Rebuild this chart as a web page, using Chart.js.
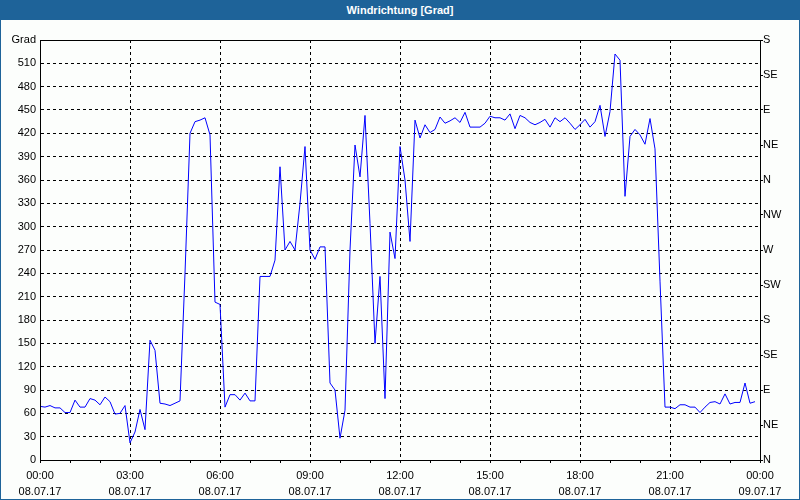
<!DOCTYPE html>
<html>
<head>
<meta charset="utf-8">
<title>Windrichtung</title>
<script src="https://cdn.jsdelivr.net/npm/chart.js@4/dist/chart.umd.min.js"></script>
<style>
  body { margin: 0; background: #fcfefc; }
  #titleBar {
    position: absolute; left: 0; top: 0; width: 800px; height: 20px;
    background: #1e6399; color: #fff; text-align: center;
    font: bold 11px "Liberation Sans", Arial, sans-serif; line-height: 20px;
  }
  #wrap { position: absolute; left: 0; top: 0; width: 800px; height: 500px; }
  #border {
    position: absolute; left: 0; top: 0; width: 800px; height: 500px;
    box-sizing: border-box; border: 1px solid #1e6399; pointer-events: none;
  }
</style>
</head>
<body>
<div id="titleBar">Windrichtung [Grad]</div>
<div id="wrap"><canvas id="windChart" width="800" height="500"></canvas></div>
<div id="border"></div>
<script>
// Wind direction in degrees, one value every 10 minutes (08.07.17 00:00 - 23:50)
const sampleMinutes = 10;
const windDir = [
  69, 68, 70, 67, 67, 61, 61, 77, 68, 68, 79, 77, 71, 81, 75, 59, 60, 70,
  22, 36, 65, 39, 154, 141, 73, 72, 70, 73, 76, 240, 420, 435, 437, 440, 418, 203,
  200, 68, 84, 84, 77, 86, 76, 76, 236, 236, 236, 257, 377, 270, 281, 270, 330, 403,
  270, 258, 274, 274, 99, 90, 28, 64, 270, 405, 364, 443, 304, 150, 236, 79, 293, 259,
  403, 360, 281, 437, 414, 431, 421, 425, 441, 433, 436, 440, 434, 447, 428, 428, 428, 433,
  442, 440, 440, 437, 445, 426, 443, 440, 434, 431, 434, 438, 428, 440, 435, 440, 433, 425,
  431, 438, 428, 435, 456, 416, 448, 522, 514, 339, 416, 425, 418, 406, 439, 400, 230, 68,
  68, 66, 71, 71, 68, 68, 61, 68, 74, 75, 72, 85, 72, 74, 74, 99, 73, 75
];

const timeLabels = ["00:00", "03:00", "06:00", "09:00", "12:00", "15:00", "18:00", "21:00", "00:00"];
const dateLabels = ["08.07.17", "08.07.17", "08.07.17", "08.07.17", "08.07.17", "08.07.17", "08.07.17", "08.07.17", "09.07.17"];
const compassLabels = ["N", "NE", "E", "SE", "S", "SW", "W", "NW", "N", "NE", "E", "SE", "S"];
const yUnit = "Grad";

const points = windDir.map(function (v, i) {
  return { x: i * sampleMinutes, y: v };
});

Chart.defaults.font.family = '"Liberation Sans", Arial, sans-serif';
Chart.defaults.font.size = 11;
Chart.defaults.color = "#000";

// solid frame round the plot area
const framePlugin = {
  id: "frame",
  afterDraw: function (chart) {
    const a = chart.chartArea;
    const ctx = chart.ctx;
    ctx.save();
    ctx.strokeStyle = "#000";
    ctx.lineWidth = 1;
    ctx.strokeRect(Math.round(a.left) + 0.5, Math.round(a.top) + 0.5,
      Math.round(a.right - a.left), Math.round(a.bottom - a.top));
    ctx.restore();
  }
};

new Chart(document.getElementById("windChart").getContext("2d"), {
  type: "line",
  data: {
    datasets: [
      {
        data: points,
        borderColor: "#0000ff",
        borderWidth: 1,
        pointRadius: 0,
        tension: 0,
        fill: false
      }
    ]
  },
  options: {
    responsive: false,
    animation: false,
    layout: { padding: { top: 40, left: 0, right: 0, bottom: 0 } },
    plugins: {
      legend: { display: false },
      tooltip: { enabled: false }
    },
    scales: {
      x: {
        type: "linear",
        min: 0,
        max: 1440,
        afterFit: function (s) { s.height = 40; },
        ticks: {
          stepSize: 60,
          autoSkip: false,
          maxRotation: 0,
          padding: 5,
          font: { lineHeight: 1.45 },
          callback: function (value) {
            if (value % 180 !== 0) return "";
            const k = value / 180;
            return [timeLabels[k], dateLabels[k]];
          }
        },
        grid: {
          color: function (c) {
            const v = c.tick ? c.tick.value : 0;
            return v % 180 === 0 && v > 0 && v < 1440 ? "#000" : "rgba(0,0,0,0)";
          },
          tickColor: "#000",
          tickLength: 3
        },
        border: { color: "#000", dash: [3, 3] }
      },
      y: {
        position: "left",
        min: 0,
        max: 540,
        afterFit: function (s) { s.width = 40; },
        ticks: {
          stepSize: 30,
          autoSkip: false,
          padding: 4,
          callback: function (value) {
            return value === 540 ? yUnit : value;
          }
        },
        grid: {
          drawTicks: false,
          color: function (c) {
            const v = c.tick ? c.tick.value : 0;
            return v > 0 && v < 540 ? "#000" : "rgba(0,0,0,0)";
          }
        },
        border: { color: "#000", dash: [3, 3] }
      },
      y2: {
        position: "right",
        min: 0,
        max: 540,
        afterFit: function (s) { s.width = 40; },
        ticks: {
          stepSize: 45,
          autoSkip: false,
          padding: 0,
          callback: function (value) {
            return compassLabels[Math.round(value / 45)];
          }
        },
        grid: {
          drawOnChartArea: false,
          tickColor: "#000",
          tickLength: 3
        },
        border: { color: "#000" }
      }
    }
  },
  plugins: [framePlugin]
});
</script>
</body>
</html>
